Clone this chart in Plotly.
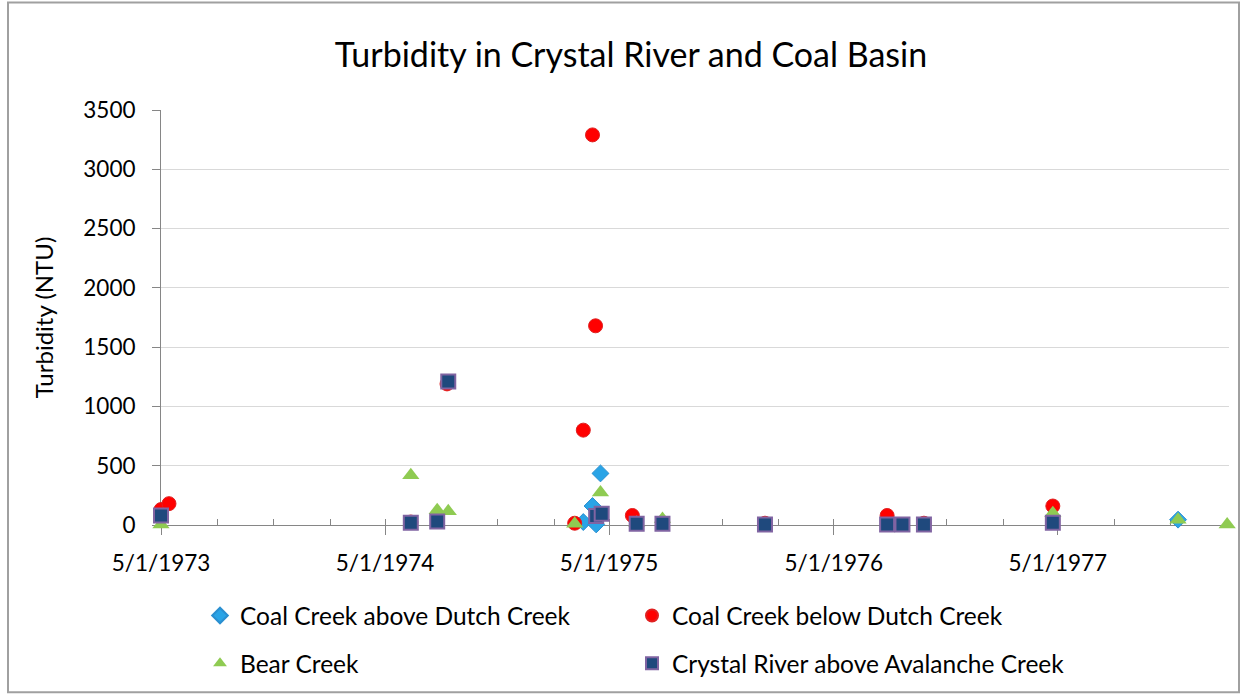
import plotly.graph_objects as go

# ---- data ----
above_dates = ["1975-03-20", "1975-04-04", "1975-04-10", "1975-04-17", "1977-11-13"]
above_vals = [25, 160, 5, 435, 45]

below_dates = ["1973-05-01", "1973-05-14", "1974-06-12", "1974-08-10", "1975-03-06",
               "1975-03-20", "1975-04-04", "1975-04-09", "1975-06-08", "1976-01-10",
               "1976-07-27", "1976-09-25", "1977-04-23"]
below_vals = [130, 180, 25, 1190, 15, 800, 3290, 1680, 80, 15, 80, 15, 160]

bear_dates = ["1973-05-01", "1974-06-12", "1974-07-25", "1974-08-12", "1975-03-06",
              "1975-04-17", "1975-06-15", "1975-07-27", "1977-04-23", "1977-11-13",
              "1978-02-01"]
bear_vals = [5, 420, 125, 115, 10, 275, 20, 50, 100, 45, 5]

crystal_dates = ["1973-05-01", "1974-06-12", "1974-07-25", "1974-08-12", "1975-04-10",
                 "1975-04-19", "1975-06-15", "1975-07-27", "1976-01-10", "1976-07-27",
                 "1976-08-21", "1976-09-25", "1977-04-23"]
crystal_vals = [80, 20, 30, 1210, 75, 95, 10, 10, 5, 5, 5, 5, 20]

FONT = "Lato"
W, H = 1244, 698
L, R, T, B = 161, 15, 110, 171
PW, PH = W - L - R, H - T - B

def px_x(x):
    return (x - L) / PW

def px_y(y):
    return (H - B - y) / PH

fig = go.Figure()
fig.add_trace(go.Scatter(
    x=above_dates, y=above_vals, mode="markers", name="Coal Creek above Dutch Creek",
    marker=dict(symbol="diamond", size=13, color="#2aa4e6", line=dict(width=1, color="#2a8fd0")),
    cliponaxis=False, legend="legend"))
fig.add_trace(go.Scatter(
    x=below_dates, y=below_vals, mode="markers", name="Coal Creek below Dutch Creek",
    marker=dict(symbol="circle", size=14, color="#ff0000", line=dict(width=1, color="#e02020")),
    cliponaxis=False, legend="legend"))
fig.add_trace(go.Scatter(
    x=bear_dates, y=bear_vals, mode="markers", name="Bear Creek",
    marker=dict(symbol="triangle-up", size=15, color="#8fcb52", line=dict(width=0)),
    cliponaxis=False, legend="legend2"))
fig.add_trace(go.Scatter(
    x=crystal_dates, y=crystal_vals, mode="markers", name="Crystal River above Avalanche Creek",
    marker=dict(symbol="square", size=14, color="#1f497d", line=dict(width=2, color="#8064a2")),
    cliponaxis=False, legend="legend2"))

axis_col = "#868686"
TICK_SIZE = 22.5
fig.update_layout(
    width=W, height=H,
    margin=dict(l=L, r=R, t=T, b=B),
    paper_bgcolor="white", plot_bgcolor="white",
    font=dict(family=FONT, color="#000000", size=TICK_SIZE),
    title=dict(text="Turbidity in Crystal River and Coal Basin", x=631 / W, xanchor="center",
               y=1 - 55 / H, yanchor="middle", font=dict(size=34, family=FONT, color="#000000")),
    xaxis=dict(
        type="date", range=["1973-05-01", "1978-02-04"],
        tick0="1973-05-01", dtick="M12", tickformat="%-m/%-d/%Y",
        ticks="outside", ticklen=9, tickcolor=axis_col, tickwidth=1,
        minor=dict(ticks="inside", ticklen=6, dtick="M3", tick0="1973-05-01",
                   tickcolor=axis_col, showgrid=False),
        showline=True, linecolor=axis_col, linewidth=1,
        showgrid=False, zeroline=False, layer="below traces",
        ticklabelstandoff=9,
        tickfont=dict(size=TICK_SIZE, family=FONT, color="#000000"),
    ),
    yaxis=dict(
        range=[0, 3500], dtick=500, ticks="outside", ticklen=8, tickcolor=axis_col,
        showline=True, linecolor=axis_col, linewidth=1,
        showgrid=True, gridcolor="#d9d9d9", gridwidth=1, zeroline=False,
        layer="below traces", ticklabelstandoff=12,
        title=dict(text="Turbidity (NTU)", font=dict(size=24, family=FONT, color="#000000"), standoff=22),
        tickfont=dict(size=TICK_SIZE, family=FONT, color="#000000"),
    ),
    legend=dict(orientation="h", x=px_x(200), xanchor="left", y=px_y(618), yanchor="middle",
                entrywidth=387, entrywidthmode="pixels", font=dict(size=24.5, family=FONT),
                itemsizing="constant", bgcolor="rgba(0,0,0,0)"),
    legend2=dict(orientation="h", x=px_x(200), xanchor="left", y=px_y(666), yanchor="middle",
                 entrywidth=387, entrywidthmode="pixels", font=dict(size=24.5, family=FONT),
                 itemsizing="constant", bgcolor="rgba(0,0,0,0)"),
    showlegend=True,
)

# outer chart border
fig.add_shape(type="rect", xref="paper", yref="paper",
              x0=px_x(8), x1=px_x(1239), y0=px_y(695), y1=px_y(2),
              line=dict(color="#a0a0a0", width=2), fillcolor="rgba(0,0,0,0)", layer="below")

fig.write_html("out.html", config={"displayModeBar": False},
               post_script="document.body.style.margin='0';")
